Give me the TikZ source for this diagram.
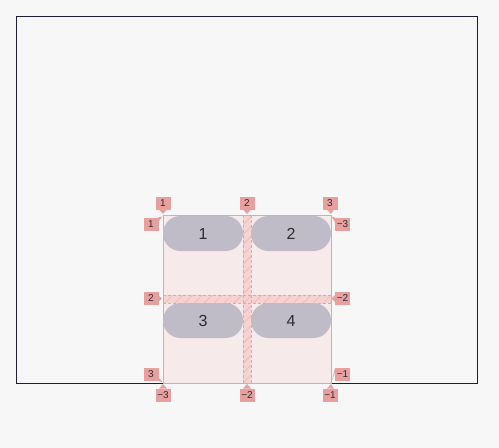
\documentclass[tikz,border=0pt]{standalone}
\usepackage{fontspec}
\setmainfont{Liberation Sans}
\usetikzlibrary{patterns.meta}
\definecolor{bg}{HTML}{F7F7F7}
\definecolor{framec}{HTML}{1E1E3C}
\definecolor{gridfill}{HTML}{F6EAEB}
\definecolor{gridline}{HTML}{E8A3A3}
\definecolor{gapfill}{HTML}{F6D3D3}
\definecolor{hatchc}{HTML}{EDB5B5}
\definecolor{itemfill}{HTML}{C0BCC7}
\definecolor{lblc}{HTML}{E8A09E}
\definecolor{txt}{HTML}{2B2B33}
\tikzset{
  lbl/.style={fill=lblc, text=txt, font=\fontsize{10}{10}\selectfont, inner sep=0pt, minimum width=15pt, minimum height=13pt},
  item/.style={fill=itemfill, rounded corners=17.4pt, minimum width=80pt, minimum height=35pt, inner sep=0pt, text=txt, font=\fontsize{16}{16}\selectfont},
  gap/.style={fill=gapfill},
  hatch/.style={pattern={Lines[angle=45,distance=7pt,line width=0.6pt]}, pattern color=hatchc},
  gapedge/.style={draw=gridline, dashed, dash pattern=on 3pt off 2pt, line width=0.6pt},
  ptr/.style={fill=lblc}
}
\begin{document}
\begin{tikzpicture}[x=1pt,y=-1pt]
\fill[bg] (0,0) rectangle (499,448);
\useasboundingbox (0,0) rectangle (499,448);
% outer frame
\draw[framec, line width=1pt] (16,16) rectangle (477,383);
% grid container
\fill[gridfill] (163,215) rectangle (331,383);
% gaps
\fill[gap] (243,215) rectangle (251,383);
\fill[gap] (163,295) rectangle (331,303);
\fill[hatch] (243,215) rectangle (251,383);
\fill[hatch] (163,295) rectangle (331,303);
\draw[gapedge] (243,215) -- (243,383);
\draw[gapedge] (251,215) -- (251,383);
\draw[gapedge] (163,295) -- (331,295);
\draw[gapedge] (163,303) -- (331,303);
\draw[gridline, line width=0.8pt] (163,215) rectangle (331,383);
% items
\node[item] (it1) at (203,233.5) {1};
\node[item] (it2) at (291,233.5) {2};
\node[item] (it3) at (203,320.5) {3};
\node[item] (it4) at (291,320.5) {4};
% top labels
\node[lbl] (t1) at (163,203.5) {1};
\node[lbl] (t2) at (247,203.5) {2};
\node[lbl] (t3) at (330,203.5) {3};
\fill[ptr] (159,209.5) -- (167,209.5) -- (163,214) -- cycle;
\fill[ptr] (243,209.5) -- (251,209.5) -- (247,214) -- cycle;
\fill[ptr] (327,209.5) -- (334,209.5) -- (331,214) -- cycle;
% left labels
\node[lbl] (l1) at (151,224) {1};
\node[lbl] (l2) at (151,298.5) {2};
\node[lbl] (l3) at (151,374.5) {3};
\fill[ptr] (158,217.5) -- (158,222) -- (162.5,216.5) -- cycle;
\fill[ptr] (158,295) -- (158,302) -- (162,298.5) -- cycle;
\fill[ptr] (158,377) -- (158,381) -- (162.5,382) -- cycle;
% right labels
\node[lbl] (r1) at (342.5,224) {−3};
\node[lbl] (r2) at (342.5,298.5) {−2};
\node[lbl] (r3) at (342.5,374.5) {−1};
\fill[ptr] (335,217.5) -- (335,222) -- (331.5,216.5) -- cycle;
\fill[ptr] (335,295) -- (335,302) -- (331.5,298.5) -- cycle;
\fill[ptr] (335,368) -- (335,372) -- (331.5,382) -- cycle;
% bottom labels
\node[lbl] (b1) at (163,395) {−3};
\node[lbl] (b2) at (247,395) {−2};
\node[lbl] (b3) at (330,395) {−1};
\fill[ptr] (159,388.5) -- (167,388.5) -- (163,384) -- cycle;
\fill[ptr] (243,388.5) -- (251,388.5) -- (247,384) -- cycle;
\fill[ptr] (327,388.5) -- (334,388.5) -- (331,384) -- cycle;
\end{tikzpicture}
\end{document}
